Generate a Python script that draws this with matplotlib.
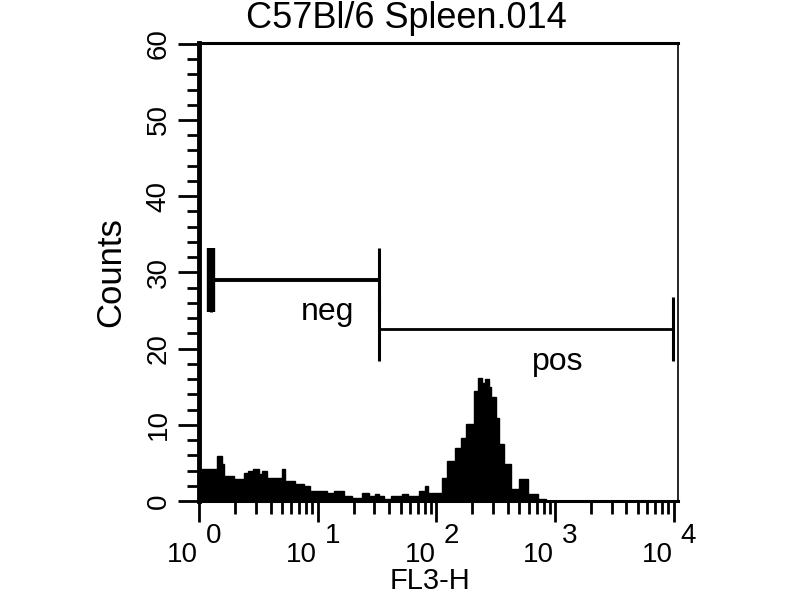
import matplotlib
matplotlib.use("Agg")
import matplotlib.pyplot as plt
from matplotlib.ticker import MultipleLocator, LogLocator, NullFormatter
import numpy as np

plt.rcParams['font.family'] = ['Liberation Sans', 'DejaVu Sans']

title = "C57Bl/6 Spleen.014"
x_label = "FL3-H"
y_label = "Counts"

# histogram: bin edges in log10(FL3-H), counts per bin
bin_edges_log = [0.00, 0.15, 0.19, 0.21, 0.29, 0.38, 0.41, 0.45, 0.50, 0.53,
                 0.57, 0.70, 0.72, 0.81, 0.88, 0.93, 1.08, 1.14, 1.22, 1.29,
                 1.37, 1.43, 1.48, 1.52, 1.56, 1.62, 1.71, 1.76, 1.85, 1.90,
                 1.93, 2.05, 2.09, 2.16, 2.21, 2.25, 2.32, 2.35, 2.38, 2.41,
                 2.44, 2.46, 2.50, 2.53, 2.57, 2.63, 2.70, 2.77, 2.86, 2.92]
counts = [4.2, 5.9, 4.9, 3.3, 2.9, 3.7, 3.9, 4.2, 3.6, 3.9,
          3.0, 4.2, 2.6, 2.2, 2.0, 1.3, 1.1, 1.3, 0.7, 0.4,
          1.1, 0.7, 0.9, 0.6, 0.3, 0.6, 0.9, 0.7, 1.3, 2.0,
          1.0, 3.0, 5.3, 7.0, 8.3, 10.1, 14.5, 16.2, 15.5, 16.0,
          14.9, 13.6, 10.9, 7.5, 4.9, 1.6, 2.9, 0.9, 0.3]

decades = [0, 1, 2, 3, 4]

# marker gates
gate_names = ["neg", "pos"]
gate_low = [1.25, 32.6]
gate_high = [32.6, 9800]
gate_level = [29.0, 22.6]
gate_label_x = [12.1, 1060]
gate_label_y = [23.8, 17.2]
bar_half = 4.2

fig = plt.figure(figsize=(8, 6), dpi=100)
ax = fig.add_axes([0.249, 0.165, 0.599, 0.7633])

edges = 10 ** np.array(bin_edges_log)
ax.stairs(counts, edges, fill=True, facecolor='black', edgecolor='black', linewidth=1)

ax.set_xscale('log')
ax.set_xlim(1, 10 ** 4.04)
ax.set_ylim(0, 60.1)

# gates
lw = [2.8, 2.0]
for i in range(len(gate_names)):
    ax.hlines(gate_level[i], gate_low[i], gate_high[i], color='black', lw=lw[i])
    ax.vlines([gate_low[i], gate_high[i]], gate_level[i] - bar_half, gate_level[i] + bar_half,
              color='black', lw=2.2)
    ax.text(gate_label_x[i], gate_label_y[i], gate_names[i], ha='center', va='baseline',
            fontsize=23)
# thick left end of the first gate
ax.vlines(gate_low[0], gate_level[0] - bar_half, gate_level[0] + bar_half, color='black', lw=6)

# spines
ax.spines['left'].set_linewidth(3.5)
ax.spines['bottom'].set_linewidth(2.2)
ax.spines['top'].set_linewidth(2.2)
ax.spines['right'].set_linewidth(1.2)

# y axis
ax.yaxis.set_major_locator(MultipleLocator(10))
ax.yaxis.set_minor_locator(MultipleLocator(2))
ax.tick_params(axis='y', which='major', direction='out', length=15, width=2, pad=5,
               labelsize=20, labelrotation=90)
ax.tick_params(axis='y', which='minor', direction='out', length=9, width=2)
for lab in ax.get_yticklabels():
    lab.set_va('center')

# x axis: decades with big exponents drawn by hand
ax.xaxis.set_major_locator(LogLocator(base=10, numticks=10))
ax.xaxis.set_minor_locator(LogLocator(base=10, subs=np.arange(2, 10), numticks=10))
ax.xaxis.set_major_formatter(NullFormatter())
ax.xaxis.set_minor_formatter(NullFormatter())
ax.tick_params(axis='x', which='major', direction='out', length=15, width=2)
ax.tick_params(axis='x', which='minor', direction='out', length=9, width=2)
for d in decades:
    ax.annotate("10", xy=(10 ** d, 0), xycoords=('data', 'axes fraction'),
                xytext=(-1, -61), textcoords='offset pixels',
                ha='right', va='baseline', fontsize=20, annotation_clip=False)
    ax.annotate(str(d), xy=(10 ** d, 0), xycoords=('data', 'axes fraction'),
                xytext=(7, -42), textcoords='offset pixels',
                ha='left', va='baseline', fontsize=20, annotation_clip=False)

ax.set_xlabel(x_label, fontsize=21)
ax.xaxis.set_label_coords(0.482, -0.145)
ax.set_ylabel(y_label, fontsize=25)
ax.yaxis.set_label_coords(-0.15, 0.5)

ax.set_title(title, fontsize=26, x=0.432, y=1.033, va='baseline', pad=0)

fig.savefig("out.png", dpi=100)
